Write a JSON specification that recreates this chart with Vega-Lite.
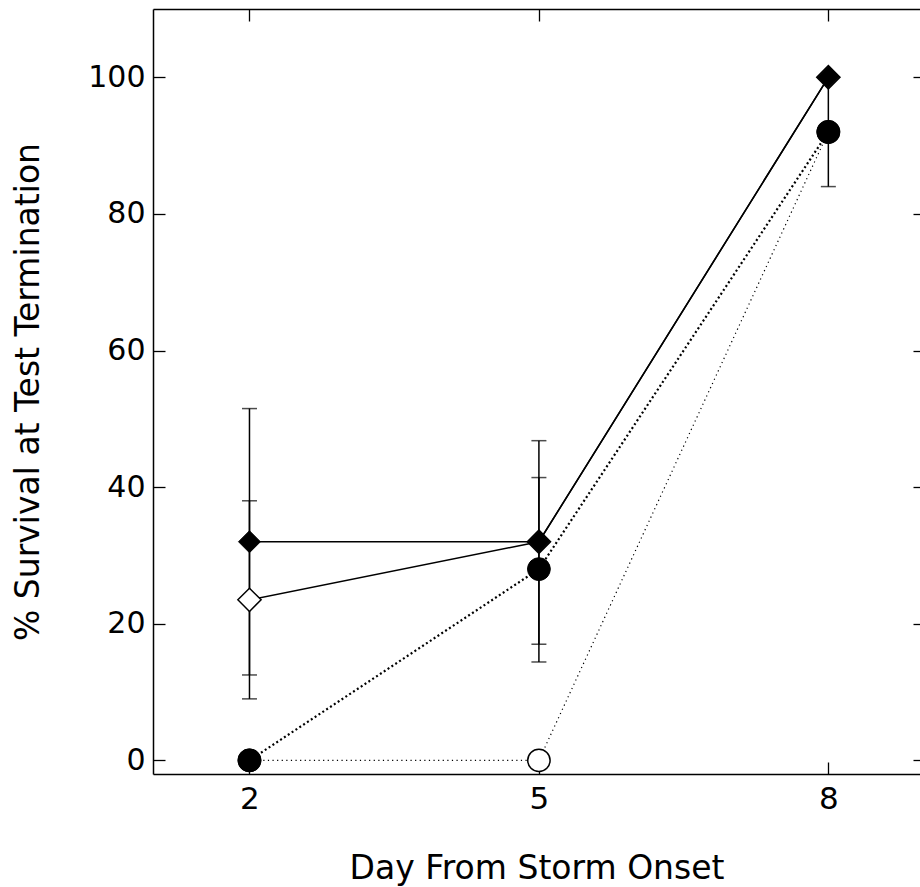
{
  "$schema": "https://vega.github.io/schema/vega-lite/v6.json",
  "width": 767,
  "height": 765,
  "autosize": "none",
  "padding": {"left": 153, "top": 9, "right": 0, "bottom": 113},
  "background": "white",
  "config": {
    "view": {"stroke": null},
    "axis": {
      "grid": false,
      "domainColor": "black",
      "domainWidth": 1.5,
      "tickColor": "black",
      "tickWidth": 1.3,
      "labelColor": "black",
      "titleColor": "black",
      "labelFont": "DejaVu Sans",
      "titleFont": "DejaVu Sans",
      "titleFontWeight": "normal",
      "zindex": 1
    }
  },
  "datasets": {
    "pts": [
      {"series": "A", "day": 2, "v": 32},
      {"series": "A", "day": 5, "v": 32},
      {"series": "A", "day": 8, "v": 100},
      {"series": "B", "day": 2, "v": 23.5},
      {"series": "B", "day": 5, "v": 32},
      {"series": "B", "day": 8, "v": 100},
      {"series": "C", "day": 2, "v": 0},
      {"series": "C", "day": 5, "v": 28},
      {"series": "C", "day": 8, "v": 92},
      {"series": "D", "day": 2, "v": 0},
      {"series": "D", "day": 5, "v": 0},
      {"series": "D", "day": 8, "v": 92}
    ],
    "err": [
      {"series": "A", "day": 2, "lo": 12.5, "hi": 51.5},
      {"series": "B", "day": 2, "lo": 9, "hi": 38},
      {"series": "A", "day": 5, "lo": 17, "hi": 46.8},
      {"series": "C", "day": 5, "lo": 14.4, "hi": 41.4},
      {"series": "C", "day": 8, "lo": 84, "hi": 100}
    ]
  },
  "layer": [
    {
      "data": {"name": "pts"},
      "transform": [{"filter": "datum.series === 'A' || datum.series === 'B'"}],
      "mark": {"type": "line", "color": "black", "strokeWidth": 1.5},
      "encoding": {
        "x": {"field": "day", "type": "quantitative", "scale": {"domain": [1, 8.95], "nice": false, "zero": false},
          "axis": {"orient": "bottom", "values": [2, 5, 8], "tickSize": -12, "labelFontSize": 31, "labelPadding": 22, "title": "Day From Storm Onset", "titleFontSize": 33, "titlePadding": 38}},
        "y": {"field": "v", "type": "quantitative", "scale": {"domain": [-2, 110], "nice": false, "zero": false},
          "axis": {"orient": "left", "values": [0, 20, 40, 60, 80, 100], "tickSize": -12, "labelFontSize": 30, "labelPadding": 20, "title": "% Survival at Test Termination", "titleFontSize": 33, "titlePadding": 42}},
        "detail": {"field": "series", "type": "nominal"}
      }
    },
    {
      "data": {"name": "pts"},
      "transform": [{"filter": "datum.series === 'C'"}],
      "mark": {"type": "line", "color": "black", "strokeWidth": 2.2, "strokeDash": [2, 2.6]},
      "encoding": {
        "x": {"field": "day", "type": "quantitative", "scale": {"domain": [1, 8.95], "nice": false, "zero": false},
          "axis": {"orient": "top", "values": [2, 5, 8], "tickSize": -12, "labels": false, "title": null}},
        "y": {"field": "v", "type": "quantitative", "scale": {"domain": [-2, 110], "nice": false, "zero": false},
          "axis": {"orient": "right", "values": [0, 20, 40, 60, 80, 100], "tickSize": -7, "labels": false, "title": null, "domain": false}}
      }
    },
    {
      "data": {"name": "pts"},
      "transform": [{"filter": "datum.series === 'D'"}],
      "mark": {"type": "line", "color": "black", "strokeWidth": 1.2, "strokeDash": [1.2, 3.4]},
      "encoding": {
        "x": {"field": "day", "type": "quantitative", "axis": null},
        "y": {"field": "v", "type": "quantitative", "axis": null}
      }
    },
    {
      "data": {"name": "err"},
      "mark": {"type": "rule", "color": "black", "strokeWidth": 1.5},
      "encoding": {
        "x": {"field": "day", "type": "quantitative", "axis": null},
        "y": {"field": "lo", "type": "quantitative", "axis": null},
        "y2": {"field": "hi"}
      }
    },
    {
      "data": {"name": "err"},
      "mark": {"type": "tick", "orient": "horizontal", "color": "black", "size": 15, "thickness": 1.5},
      "encoding": {
        "x": {"field": "day", "type": "quantitative", "axis": null},
        "y": {"field": "lo", "type": "quantitative", "axis": null}
      }
    },
    {
      "data": {"name": "err"},
      "mark": {"type": "tick", "orient": "horizontal", "color": "black", "size": 15, "thickness": 1.5},
      "encoding": {
        "x": {"field": "day", "type": "quantitative", "axis": null},
        "y": {"field": "hi", "type": "quantitative", "axis": null}
      }
    },
    {
      "data": {"name": "pts"},
      "transform": [{"filter": "datum.series === 'D'"}],
      "mark": {"type": "point", "shape": "circle", "filled": true, "fill": "white", "stroke": "black", "strokeWidth": 1.5, "opacity": 1, "size": 500},
      "encoding": {
        "x": {"field": "day", "type": "quantitative", "axis": null},
        "y": {"field": "v", "type": "quantitative", "axis": null}
      }
    },
    {
      "data": {"name": "pts"},
      "transform": [{"filter": "datum.series === 'B'"}],
      "mark": {"type": "point", "shape": "diamond", "filled": true, "fill": "white", "stroke": "black", "strokeWidth": 1.5, "opacity": 1, "size": 540},
      "encoding": {
        "x": {"field": "day", "type": "quantitative", "axis": null},
        "y": {"field": "v", "type": "quantitative", "axis": null}
      }
    },
    {
      "data": {"name": "pts"},
      "transform": [{"filter": "datum.series === 'C'"}],
      "mark": {"type": "point", "shape": "circle", "filled": true, "fill": "black", "stroke": "black", "strokeWidth": 1, "opacity": 1, "size": 520},
      "encoding": {
        "x": {"field": "day", "type": "quantitative", "axis": null},
        "y": {"field": "v", "type": "quantitative", "axis": null}
      }
    },
    {
      "data": {"name": "pts"},
      "transform": [{"filter": "datum.series === 'A'"}],
      "mark": {"type": "point", "shape": "diamond", "filled": true, "fill": "black", "stroke": "black", "strokeWidth": 1, "opacity": 1, "size": 480},
      "encoding": {
        "x": {"field": "day", "type": "quantitative", "axis": null},
        "y": {"field": "v", "type": "quantitative", "axis": null}
      }
    }
  ],
  "resolve": {"axis": {"x": "independent", "y": "independent"}}
}
